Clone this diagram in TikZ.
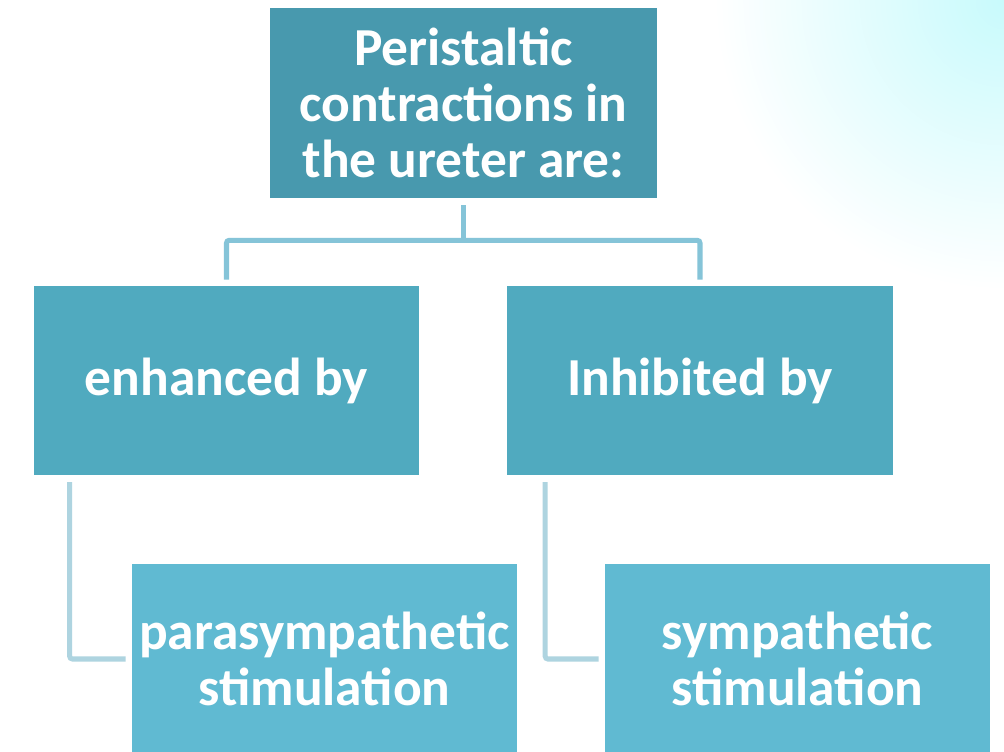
\documentclass[tikz,border=0pt]{standalone}
\usepackage{fontspec}
\setmainfont{Carlito}
\usepackage{xcolor}
\usetikzlibrary{calc, positioning, backgrounds}
\definecolor{topteal}{HTML}{4899AE}
\definecolor{midteal}{HTML}{50AABF}
\definecolor{lowteal}{HTML}{60BAD2}
\definecolor{linkblue}{HTML}{85C4D8}
\definecolor{linkpale}{HTML}{AED4E0}
\definecolor{skycyan}{HTML}{C8FAFC}

\begin{document}
\begin{tikzpicture}[x=0.025cm, y=-0.025cm,
      box/.style={draw=none, rectangle, inner sep=0pt, align=center, text=white,
        font=\bfseries\fontsize{38}{39.7}\selectfont, minimum width=9.625cm, minimum height=4.725cm},
      conn/.style={draw=linkblue, line width=3.6pt},
      subconn/.style={draw=linkpale, line width=3.6pt}]
      \useasboundingbox (0,0) rectangle (1004,751);
      \clip (0,0) rectangle (1004,751);
      \fill[white] (0,0) rectangle (1004,751);
      \shade[inner color=skycyan, outer color=white] (1004,0) circle (290);

      \node[box, fill=topteal, minimum width=9.675cm, minimum height=4.75cm] (top) at (463.5,103) {Peristaltic\\contractions in\\the ureter are:};

      \node[box, fill=midteal] (enh) at (226.5,380.5) {enhanced by};
      \node[box, fill=midteal] (inh) at (700,380.5) {Inhibited by};

      \node[box, fill=lowteal] (para) at (324.5,659) {parasympathetic\\stimulation};
      \node[box, fill=lowteal] (symp) at (797.5,659) {sympathetic\\stimulation};

      \coordinate (fork) at ($(top.south)+(0,42)$);
      \draw[conn] ([yshift=-0.17cm]top.south) -- (fork);
      \draw[conn, rounded corners=2pt] ([yshift=0.15cm]enh.north) |- (fork) -| ([yshift=0.15cm]inh.north);

      \draw[subconn, rounded corners=2pt] ([xshift=0.9cm, yshift=-0.17cm]enh.south west) |- ([xshift=-0.15cm]para.west);
      \draw[subconn, rounded corners=2pt] ([xshift=0.95cm, yshift=-0.17cm]inh.south west) |- ([xshift=-0.15cm]symp.west);
    \end{tikzpicture}
\end{document}
